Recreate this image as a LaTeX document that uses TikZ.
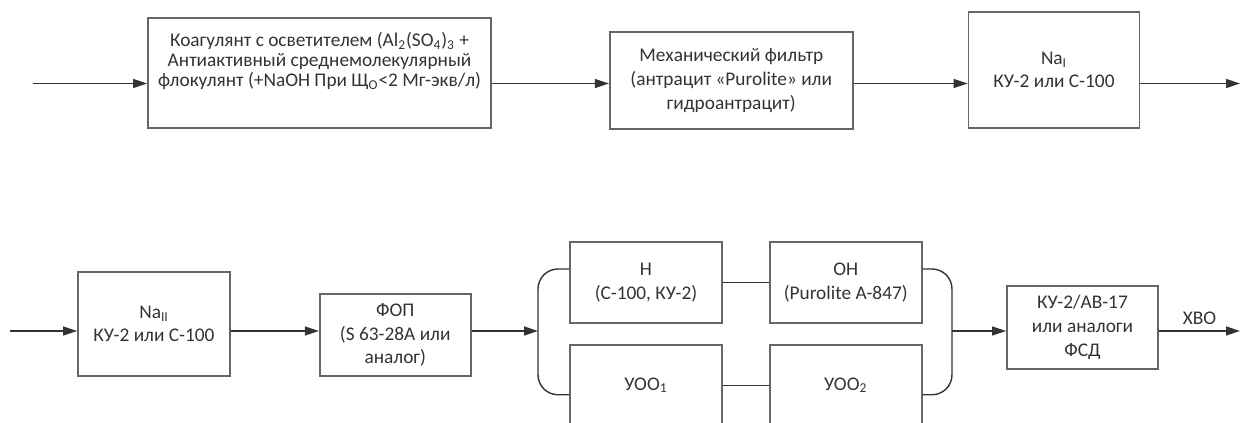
\documentclass[tikz,border=0pt]{standalone}
\usepackage{fontspec}
\setmainfont{Carlito}
\usetikzlibrary{positioning,arrows.meta}
\definecolor{txtgray}{HTML}{333333}
\definecolor{boxgray}{HTML}{666666}
\definecolor{linegray}{HTML}{333333}

\begin{document}
\begin{tikzpicture}[
    blk/.style={draw=boxgray, line width=1pt, align=center, text=txtgray,
      font=\fontsize{11}{13.5}\selectfont, inner sep=2pt},
    arr/.style={draw=linegray, line width=0.8pt, -{Triangle[length=2.8mm,width=1.8mm]}},
    ln/.style={draw=linegray, line width=0.8pt}
  ]
    \useasboundingbox (0,0) rectangle (24.84,-8.46);

    % upper line
    \coordinate(in1) at (0.66,-1.67);
    \coordinate(out1) at (24.8,-1.67);
    \node(koag) [blk, minimum width=6.86cm, minimum height=2.2cm,
      font=\fontsize{11}{11.4}\selectfont] at (6.39,-1.46)
      {Коагулянт с осветителем (Al\textsubscript{2}(SO\textsubscript{4})\textsubscript{3} +\\
       Антиактивный среднемолекулярный\\
       флокулянт (+NaOH При Щ\textsubscript{О}<2 Мг-экв/л)\\[4pt] \mbox{}};
    \node(mech) [blk, minimum width=4.86cm, minimum height=1.94cm,
      right=2.34cm of koag, yshift=-0.15cm]
      {Механический фильтр\\ (антрацит «Purolite» или\\ гидроантрацит)};
    \node(naI) [blk, minimum width=3.42cm, minimum height=2.32cm,
      right=2.28cm of mech, yshift=0.21cm]
      {Na\textsubscript{I}\\ КУ-2 или С-100};
    \draw[arr] (in1) -- (in1 -| koag.west);
    \draw[arr] (koag.east |- in1) -- (mech.west |- in1);
    \draw[arr] (mech.east |- in1) -- (naI.west |- in1);
    \draw[arr] (naI.east |- in1) -- (out1);

    % lower line
    \coordinate(in2) at (0.2,-6.62);
    \coordinate(jl) at (10.76,-6.62);
    \coordinate(jr) at (19.04,-6.62);
    \coordinate(out2) at (24.8,-6.62);
    \node(naII) [blk, minimum width=3.04cm, minimum height=2.08cm] at (3.08,-6.48)
      {Na\textsubscript{II}\\ КУ-2 или С-100};
    \node(fop) [blk, minimum width=3.02cm, minimum height=1.64cm,
      right=1.76cm of naII, yshift=-0.22cm]
      {ФОП\\ (S 63-28A или\\ аналог)};
    \node(H) [blk, minimum width=3.04cm, minimum height=1.62cm] at (12.92,-5.65)
      {H\\ (C-100, КУ-2)};
    \node(OH) [blk, minimum width=3.04cm, minimum height=1.62cm, right=0.92cm of H]
      {OH\\ (Purolite A-847)};
    \node(uoo1) [blk, minimum width=3.04cm, minimum height=1.62cm, below=0.40cm of H]
      {УОО\textsubscript{1}};
    \node(uoo2) [blk, minimum width=3.04cm, minimum height=1.62cm, right=0.92cm of uoo1]
      {УОО\textsubscript{2}};
    \node(fsd) [blk, minimum width=3.02cm, minimum height=1.66cm] at (21.65,-6.55)
      {КУ-2/АВ-17\\ или аналоги\\ ФСД};
    \draw[arr] (in2) -- (in2 -| naII.west);
    \draw[arr] (naII.east |- in2) -- (fop.west |- in2);
    \draw[arr] (fop.east |- jl) -- (jl);
    \draw[ln, rounded corners=0.4cm] ([yshift=0.27cm]H.west) -| (jl) |- ([yshift=-0.19cm]uoo1.west);
    \draw[ln, rounded corners=0.4cm] ([yshift=0.27cm]OH.east) -| (jr) |- ([yshift=-0.19cm]uoo2.east);
    \draw[ln] (H) -- (OH);
    \draw[ln] (uoo1) -- (uoo2);
    \draw[arr] (jr) -- (fsd.west |- jr);
    \draw[arr] (fsd.east |- jr) -- node(hvo) [above, text=txtgray, font=\fontsize{11}{13.5}\selectfont] {ХВО} (out2);
  \end{tikzpicture}
\end{document}
